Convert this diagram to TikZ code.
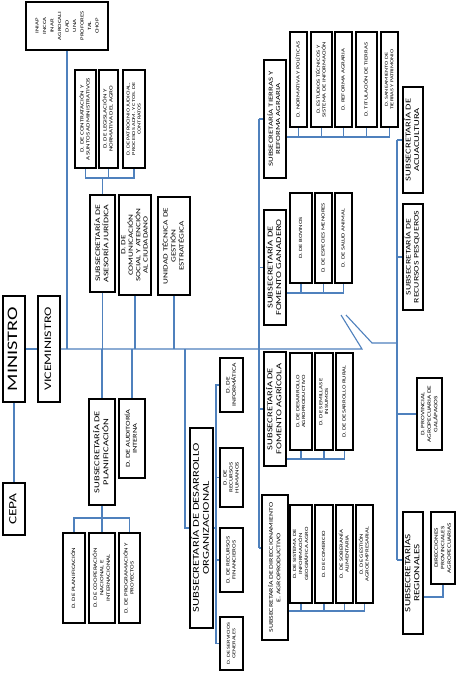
\documentclass[tikz,border=0pt]{standalone}
\usepackage{fontspec}
\setmainfont{Carlito}[FakeStretch=1.4]
\newcommand{\rt}[3]{\rotatebox{90}{\fontsize{#1}{#2}\selectfont\begin{tabular}{@{}c@{}}#3\end{tabular}}}
\definecolor{lnk}{RGB}{79,129,189}
\begin{document}
\begin{tikzpicture}[x=1pt,y=-1pt,
  box/.style={draw=black,line width=1.9pt,fill=white,inner sep=0pt},
  wh/.style 2 args={minimum width=#1pt,minimum height=#2pt},
  conn/.style={draw=lnk,line width=1.1pt}]
\fill[white] (0,0) rectangle (461,676);
\useasboundingbox (0,0) rectangle (461,676);
% ---------- left / centre ----------
\node[box,wh={82}{48}] (top) at (67,26) {\rt{4.8}{7.5}{INIAP\\INCCA\\INAR\\AGROCALI\\DAD\\UNA\\PROFORES\\TAL\\CHOP}};
\node[box,wh={21}{98}] (ca1) at (85.5,119) {\rt{5}{6}{D. DE CONTRATACIÓN Y\\ASUNTOS ADMINISTRATIVOS}};
\node[box,wh={19}{98}] (ca2) at (108.5,119) {\rt{5}{6}{D. DE LEGISLACIÓN Y\\NORMATIVA DEL AGRO}};
\node[box,wh={22}{98}] (ca3) at (134,119) {\rt{4.5}{5.5}{D. DE PATROCINIO JUDICIAL,\\PROCESOS ADM. Y CTOS. DE\\CONTRATOS}};
\node[box,wh={25}{97}] (asj) at (102.5,243.5) {\rt{7}{8}{SUBSECRETARÍA DE\\ASESORÍA JURÍDICA}};
\node[box,wh={32}{100}] (com) at (135,245) {\rt{6.5}{7.2}{D. DE\\COMUNICACIÓN\\SOCIAL Y ATENCIÓN\\AL CIUDADANO}};
\node[box,wh={32}{98}] (ute) at (174,246) {\rt{6.5}{8}{UNIDAD TÉCNICA DE\\GESTIÓN\\ESTRATÉGICA}};
\node[box,wh={22}{106}] (min) at (14,349) {\rt{14.5}{15}{MINISTRO}};
\node[box,wh={22}{106}] (vice) at (49,349) {\rt{10}{11}{VICEMINISTRO}};
\node[box,wh={22}{52}] (cepa) at (14,509) {\rt{11}{12}{CEPA}};
\node[box,wh={26}{106}] (plan) at (102,452) {\rt{7.5}{8.5}{SUBSECRETARÍA DE\\PLANIFICACIÓN}};
\node[box,wh={26}{79}] (aud) at (132,438.5) {\rt{6}{7}{D. DE AUDITORÍA\\INTERNA}};
\node[box,wh={22}{90}] (cp1) at (74,578) {\rt{5}{6}{D. DE PLANIFICACIÓN}};
\node[box,wh={26}{90}] (cp2) at (102,578) {\rt{5}{6.5}{D. DE COOPERACIÓN\\NACIONAL E\\INTERNACIONAL}};
\node[box,wh={21}{90}] (cp3) at (129.5,578) {\rt{5}{6}{D. DE PROGRAMACIÓN Y\\PROYECTOS}};
\node[box,wh={23}{200}] (dorg) at (201.5,528) {\rt{9}{10}{SUBSECRETARÍA DE DESARROLLO\\ORGANIZACIONAL}};
\node[box,wh={23}{54}] (cd1) at (231.5,385) {\rt{5.4}{6.4}{D. DE\\INFORMÁTICA}};
\node[box,wh={23}{59}] (cd2) at (231.5,477.5) {\rt{5}{6}{D. DE\\RECURSOS\\HUMANOS}};
\node[box,wh={23}{64}] (cd3) at (231.5,560) {\rt{5}{6}{D. DE RECURSOS\\FINANCIEROS}};
\node[box,wh={23}{53}] (cd4) at (231.5,643.5) {\rt{4.5}{5.5}{D. DE SERVICIOS\\GENERALES}};
% ---------- right ----------
\node[box,wh={22}{118}] (tie) at (275,119) {\rt{6.3}{7.3}{SUBSECRETARÍA TIERRAS Y\\REFORMA AGRARIA}};
\node[box,wh={22}{115}] (gan) at (275,267.5) {\rt{7.5}{8.5}{SUBSECRETARÍA DE\\FOMENTO GANADERO}};
\node[box,wh={22}{114}] (agr) at (275,409) {\rt{7.5}{8.5}{SUBSECRETARÍA DE\\FOMENTO AGRÍCOLA}};
\node[box,wh={26}{145}] (dir) at (275,567.5) {\rt{5.6}{7.5}{SUBSECRETARÍA DE DIRECCIONAMIENTO\\E. AGROPRODUCTIVO}};
\node[box,wh={17}{95}] (ct1) at (298.5,79.5) {\rt{4.8}{5.8}{D. NORMATIVA Y POLÍTICAS}};
\node[box,wh={21}{95}] (ct2) at (321.5,79.5) {\rt{4.8}{5.8}{D. ESTUDIOS TÉCNICOS Y\\SISTEMA DE INFORMACIÓN}};
\node[box,wh={17}{95}] (ct3) at (343.5,79.5) {\rt{4.8}{5.8}{D. REFORMA AGRARIA}};
\node[box,wh={21}{95}] (ct4) at (366.5,79.5) {\rt{4.8}{5.8}{D. TITULACIÓN DE TIERRAS}};
\node[box,wh={17}{95}] (ct5) at (389.5,79.5) {\rt{4.5}{5.5}{D. SANEAMIENTO DE\\TIERRAS Y PATRIMONIO}};
\node[box,wh={22}{90}] (cg1) at (301,238) {\rt{4.8}{5.8}{D. DE BOVINOS}};
\node[box,wh={17}{90}] (cg2) at (323.5,238) {\rt{4.8}{5.8}{D. DE ESPECIES MENORES}};
\node[box,wh={17}{90}] (cg3) at (343.5,238) {\rt{4.8}{5.8}{D. DE SALUD ANIMAL}};
\node[box,wh={22}{97}] (cc1) at (301,401.5) {\rt{4.8}{5.8}{D. DE DESARROLLO\\AGROPRODUCTIVO}};
\node[box,wh={18}{97}] (cc2) at (324,401.5) {\rt{4.8}{5.8}{D. DE SEMILLAS E\\INSUMOS}};
\node[box,wh={17}{97}] (cc3) at (344.5,401.5) {\rt{4.8}{5.8}{D. DE DESARROLLO RURAL}};
\node[box,wh={22}{98}] (cr1) at (301,554) {\rt{4.8}{6}{D. DE SISTEMA DE\\INFORMACIÓN\\GEOGRÁFICA AGRO}};
\node[box,wh={18}{98}] (cr2) at (324,554) {\rt{4.8}{5.8}{D. DE COMERCIO}};
\node[box,wh={17}{98}] (cr3) at (344.5,554) {\rt{4.8}{5.8}{D. DE SOBERANÍA\\ALIMENTARIA}};
\node[box,wh={17}{98}] (cr4) at (364.5,554) {\rt{4.8}{5.8}{D. DE GESTIÓN\\AGROEMPRESARIAL}};
\node[box,wh={20}{106}] (acu) at (413,140) {\rt{7.5}{8.5}{SUBSECRETARÍA DE\\ACUACULTURA}};
\node[box,wh={20}{106}] (pes) at (413,257) {\rt{7}{8}{SUBSECRETARÍA DE\\RECURSOS PESQUEROS}};
\node[box,wh={25}{72}] (gal) at (429.5,414) {\rt{5.2}{6.5}{D. PROVINCIAL\\AGROPECUARIA DE\\GALÁPAGOS}};
\node[box,wh={20}{122}] (reg) at (413,573) {\rt{8}{9}{SUBSECRETARÍAS\\REGIONALES}};
\node[box,wh={24}{72}] (dpa) at (443,548) {\rt{5.2}{6.5}{DIRECCIONES\\PROVINCIALES\\AGROPECUARIAS}};
% ---------- helper coordinates ----------
\coordinate (M) at (0,349);
\coordinate (brk1) at (362,349);
\coordinate (brk1a) at (341,315);
\coordinate (brk2) at (372,343);
\coordinate (brk2a) at (346,315);
\coordinate (R) at (397,0);
\coordinate (regj) at (397,560);
\coordinate (L) at (259,0);
\coordinate (dirj) at (259,548);
\coordinate (D) at (185,0);
\coordinate (BD) at (216,0);
\coordinate (BA) at (0,178);
\coordinate (BP) at (0,518);
\coordinate (BT) at (0,137);
\coordinate (BG) at (0,293);
\coordinate (BC) at (0,459);
\coordinate (BR) at (0,611);
\coordinate (BRG) at (0,597);
% ---------- connectors ----------
\draw[conn] (min.east) -- (vice.west);
\draw[conn] (vice.east) -- (brk1) -- (brk1a);
\draw[conn] (brk2a) -- (brk2) -- (R |- brk2);
\draw[conn] (top.south) -- (top.south |- M);
\draw[conn] (min.south) -- (cepa.north);
\draw[conn] (asj.south) -- (asj.south |- M);
\draw[conn] (com.south) -- (com.south |- M);
\draw[conn] (ute.south) -- (ute.south |- M);
\draw[conn] (plan.north |- M) -- (plan.north);
\draw[conn] (aud.north |- M) -- (aud.north);
% asesoria bracket
\draw[conn] (asj.north) -- (asj.north |- BA);
\draw[conn] (ca1.south) -- (ca1.south |- BA) -- (ca3.south |- BA) -- (ca3.south);
\draw[conn] (ca2.south) -- (ca2.south |- BA);
% planificacion bracket
\draw[conn] (plan.south) -- (plan.south |- BP);
\draw[conn] (cp1.north) -- (cp1.north |- BP) -- (cp3.north |- BP) -- (cp3.north);
\draw[conn] (cp2.north) -- (cp2.north |- BP);
% desarrollo organizacional
\draw[conn] (D |- M) -- (D |- dorg.west) -- (dorg.west);
\draw[conn] (dorg.east) -- (BD |- dorg.east);
\draw[conn] (cd1.west) -- (BD |- cd1.west) -- (BD |- cd4.west) -- (cd4.west);
\draw[conn] (cd2.west) -- (BD |- cd2.west);
\draw[conn] (cd3.west) -- (BD |- cd3.west);
% subsecretarias column
\draw[conn] (L |- tie.west) -- (dirj);
\draw[conn] (L |- tie.west) -- (tie.west);
\draw[conn] (L |- gan.west) -- (gan.west);
\draw[conn] (L |- agr.west) -- (agr.west);
\draw[conn] (dirj) -- (dir.west |- dirj);
% tierras bracket
\draw[conn] (tie.east |- BT) -- (ct5.south |- BT) -- (ct5.south);
\draw[conn] (ct1.south) -- (ct1.south |- BT);
\draw[conn] (ct2.south) -- (ct2.south |- BT);
\draw[conn] (ct3.south) -- (ct3.south |- BT);
\draw[conn] (ct4.south) -- (ct4.south |- BT);
% ganadero bracket
\draw[conn] (gan.east |- BG) -- (cg3.south |- BG) -- (cg3.south);
\draw[conn] (cg1.south) -- (cg1.south |- BG);
\draw[conn] (cg2.south) -- (cg2.south |- BG);
% agricola bracket
\draw[conn] (agr.east |- BC) -- (cc3.south |- BC) -- (cc3.south);
\draw[conn] (cc1.south) -- (cc1.south |- BC);
\draw[conn] (cc2.south) -- (cc2.south |- BC);
% direccionamiento bracket
\draw[conn] (dir.east |- BR) -- (cr4.south |- BR) -- (cr4.south);
\draw[conn] (cr1.south) -- (cr1.south |- BR);
\draw[conn] (cr2.south) -- (cr2.south |- BR);
\draw[conn] (cr3.south) -- (cr3.south |- BR);
% far right column
\draw[conn] (R |- acu.west) -- (regj);
\draw[conn] (R |- acu.west) -- (acu.west);
\draw[conn] (R |- pes.west) -- (pes.west);
\draw[conn] (R |- gal.west) -- (gal.west);
\draw[conn] (regj) -- (reg.west |- regj);
\draw[conn] (reg.east |- BRG) -- (dpa.south |- BRG) -- (dpa.south);
\end{tikzpicture}
\end{document}
